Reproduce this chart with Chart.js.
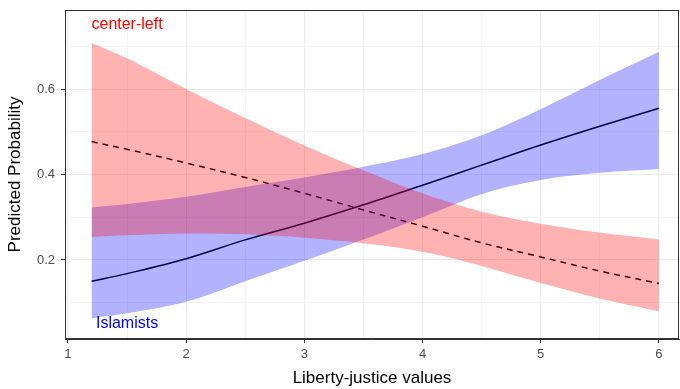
<!DOCTYPE html>
<html>
<head>
<meta charset="utf-8">
<script src="https://cdn.jsdelivr.net/npm/chart.js@4/dist/chart.umd.min.js"></script>
<style>
  body { margin: 0; background: #fff; }
  canvas { display: block; }
</style>
</head>
<body>
<canvas id="chart" width="680" height="389"></canvas>
<script>
// liberty-justice values where the predictions were read
const libertyJustice = [1.2, 1.5, 2, 2.5, 3, 3.5, 4, 4.5, 5, 5.5, 6];

// Islamists (blue)
const islamistsFit   = [0.150, 0.168, 0.203, 0.247, 0.286, 0.329, 0.375, 0.422, 0.469, 0.513, 0.555];
const islamistsLower = [0.063, 0.075, 0.102, 0.150, 0.198, 0.248, 0.300, 0.354, 0.387, 0.404, 0.413];
const islamistsUpper = [0.323, 0.331, 0.348, 0.371, 0.393, 0.418, 0.448, 0.492, 0.553, 0.621, 0.687];

// center-left (red)
const centerLeftFit   = [0.477, 0.459, 0.427, 0.393, 0.356, 0.317, 0.279, 0.240, 0.207, 0.174, 0.145];
const centerLeftLower = [0.254, 0.258, 0.262, 0.260, 0.252, 0.239, 0.219, 0.186, 0.146, 0.110, 0.080];
const centerLeftUpper = [0.708, 0.672, 0.600, 0.532, 0.468, 0.410, 0.356, 0.313, 0.285, 0.264, 0.248];

const xTicks = [1, 2, 3, 4, 5, 6];
const yTicks = [0.2, 0.4, 0.6];

const groupLabels = [
  { text: 'center-left', x: 1.5, y: 0.75, color: '#FF0000' },
  { text: 'Islamists',   x: 1.5, y: 0.05, color: '#0000FF' }
];

const FONT = "'Liberation Sans', Arial, Helvetica, sans-serif";

function pts(ys) {
  return libertyJustice.map((x, i) => ({ x: x, y: ys[i] }));
}

function isMajor(v, list) {
  return list.some(t => Math.abs(t - v) < 1e-6);
}

const ribbon = { borderWidth: 0, pointRadius: 0, tension: 0.35 };

const data = {
  datasets: [
    Object.assign({ label: 'center-left upper', data: pts(centerLeftUpper), fill: '+1',
      backgroundColor: 'rgba(255,0,0,0.3)', order: 0 }, ribbon),
    Object.assign({ label: 'center-left lower', data: pts(centerLeftLower), fill: false, order: 0 }, ribbon),
    Object.assign({ label: 'Islamists upper', data: pts(islamistsUpper), fill: '+1',
      backgroundColor: 'rgba(0,0,255,0.3)', order: 1 }, ribbon),
    Object.assign({ label: 'Islamists lower', data: pts(islamistsLower), fill: false, order: 1 }, ribbon),
    { label: 'center-left', data: pts(centerLeftFit), borderColor: '#000', borderWidth: 1.5,
      borderDash: [6, 5], pointRadius: 0, fill: false, tension: 0.35, order: 2 },
    { label: 'Islamists', data: pts(islamistsFit), borderColor: '#000', borderWidth: 1.5,
      pointRadius: 0, fill: false, tension: 0.35, order: 2 }
  ]
};

// panel border and group labels
const panelExtras = {
  id: 'panelExtras',
  afterDatasetsDraw(chart) {
    const { ctx, chartArea, scales } = chart;
    ctx.save();
    ctx.font = '16px ' + FONT;
    ctx.textAlign = 'center';
    ctx.textBaseline = 'middle';
    groupLabels.forEach(l => {
      ctx.fillStyle = l.color;
      ctx.fillText(l.text, scales.x.getPixelForValue(l.x), scales.y.getPixelForValue(l.y));
    });
    ctx.strokeStyle = '#333333';
    ctx.lineWidth = 1;
    ctx.strokeRect(chartArea.left + 0.5, chartArea.top + 0.5,
      chartArea.right - chartArea.left - 1, chartArea.bottom - chartArea.top - 1);
    ctx.restore();
  }
};

const options = {
  responsive: false,
  animation: false,
  layout: { padding: { top: 10, right: 1, left: 0, bottom: 0 } },
  plugins: {
    legend: { display: false },
    tooltip: { enabled: false }
  },
  scales: {
    x: {
      type: 'linear',
      min: 0.975,
      max: 6.17,
      afterFit: s => { s.height = 50; s.paddingLeft = 0; s.paddingRight = 0; },
      border: { display: true, color: '#333333', width: 1 },
      grid: {
        color: c => isMajor(c.tick.value, xTicks) ? '#EBEBEB' : '#F4F4F4',
        lineWidth: 1,
        tickLength: 4,
        tickColor: c => isMajor(c.tick.value, xTicks) ? '#333333' : 'rgba(0,0,0,0)'
      },
      ticks: {
        stepSize: 0.5,
        includeBounds: false,
        autoSkip: false,
        maxRotation: 0,
        padding: 4,
        color: '#4D4D4D',
        font: { family: FONT, size: 13 },
        callback: v => isMajor(v, xTicks) ? String(v) : ''
      },
      title: {
        display: true,
        text: 'Liberty-justice values',
        color: '#000',
        font: { family: FONT, size: 17 },
        padding: { top: 0, bottom: 0 }
      }
    },
    y: {
      type: 'linear',
      min: 0.015,
      max: 0.785,
      afterFit: s => { s.width = 65; s.paddingTop = 0; s.paddingBottom = 0; },
      border: { display: true, color: '#333333', width: 1 },
      grid: {
        color: c => isMajor(c.tick.value, yTicks) ? '#EBEBEB' : '#F4F4F4',
        lineWidth: 1,
        tickLength: 4,
        tickColor: c => isMajor(c.tick.value, yTicks) ? '#333333' : 'rgba(0,0,0,0)'
      },
      ticks: {
        stepSize: 0.1,
        includeBounds: false,
        autoSkip: false,
        padding: 6,
        color: '#4D4D4D',
        font: { family: FONT, size: 13 },
        callback: v => isMajor(v, yTicks) ? v.toFixed(1) : ''
      },
      title: {
        display: true,
        text: 'Predicted Probability',
        color: '#000',
        font: { family: FONT, size: 17 },
        padding: { top: 5, bottom: 0 }
      }
    }
  }
};

const config = {
  type: 'line',
  data: data,
  options: options,
  plugins: [panelExtras]
};

const ctx = document.getElementById('chart');
var myChart = new Chart(ctx, config);
</script>
</body>
</html>
